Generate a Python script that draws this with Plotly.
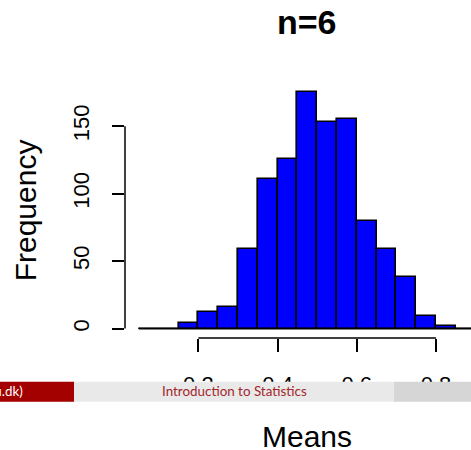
import plotly.graph_objects as go

# ---- data ----
bin_left = [0.05, 0.10, 0.15, 0.20, 0.25, 0.30, 0.35, 0.40, 0.45, 0.50,
            0.55, 0.60, 0.65, 0.70, 0.75, 0.80, 0.85]
counts = [0, 0, 4, 12, 16, 59, 111, 126, 175, 153, 155, 80, 59, 38, 9, 2, 0]
bin_width = 0.05
x_ticks = [0.2, 0.4, 0.6, 0.8]
x_ticklabels = ["0.2", "0.4", "0.6", "0.8"]
y_ticks = [0, 50, 100, 150]
y_ticklabels = ["0", "50", "100", "150"]
title = "n=6"
xlabel = "Means"
ylabel = "Frequency"
footer_left = "dtu.dk)"
footer_mid = "Introduction to Statistics"

W, H = 471, 450
ML, MR, MT, MB = 125, 0, 82.5, 112.2
PW, PH = W - ML - MR, H - MT - MB

def px(xp):
    return (xp - ML) / PW

def py(yp):
    return (H - MB - yp) / PH

centers = [b + bin_width / 2 for b in bin_left]

fig = go.Figure()
fig.add_trace(go.Bar(
    x=centers, y=counts, width=[bin_width] * len(centers),
    marker=dict(color="#0000FF", line=dict(color="black", width=1.6)),
    hoverinfo="skip",
))

axis_font = dict(family="Liberation Sans, Arial, sans-serif", size=22, color="black")

fig.update_layout(
    width=W, height=H,
    margin=dict(l=ML, r=MR, t=MT, b=MB, pad=0),
    paper_bgcolor="white", plot_bgcolor="white",
    showlegend=False,
    bargap=0,
    xaxis=dict(range=[0.0149, 0.0149 + PW / 396.2], showgrid=False, zeroline=False,
               showline=False, ticks="outside", ticklen=13, tickwidth=1.5,
               tickcolor="black", tickvals=x_ticks, ticktext=x_ticklabels,
               tickfont=axis_font, ticklabelstandoff=14),
    yaxis=dict(range=[-7, 182], showgrid=False, zeroline=False, showline=False,
               ticks="outside", ticklen=12, tickwidth=1.5, tickcolor="black",
               tickvals=y_ticks, ticktext=y_ticklabels, tickangle=-90,
               tickfont=axis_font, ticklabelstandoff=14),
)

# histogram baseline (bottom edges of all bins, including empty ones)
fig.add_shape(type="line", xref="x", yref="y", x0=bin_left[0],
              x1=bin_left[-1] + bin_width, y0=0, y1=0,
              line=dict(color="black", width=1.8))

# axis lines spanning first to last tick (R style)
fig.add_shape(type="line", xref="x", yref="paper", x0=min(x_ticks), x1=max(x_ticks),
              y0=0, y1=0, line=dict(color="black", width=1.5))
fig.add_shape(type="line", xref="paper", yref="y", x0=0, x1=0,
              y0=min(y_ticks), y1=max(y_ticks), line=dict(color="black", width=1.5))

# titles
fig.add_annotation(text="<b>" + title + "</b>", xref="paper", yref="paper",
                   x=px(307), y=py(21.5), xanchor="center", yanchor="middle",
                   showarrow=False,
                   font=dict(family="Liberation Sans, Arial, sans-serif", size=34, color="black"))
fig.add_annotation(text=xlabel, xref="paper", yref="paper",
                   x=px(307), y=py(436.3), xanchor="center", yanchor="middle",
                   showarrow=False,
                   font=dict(family="Liberation Sans, Arial, sans-serif", size=30, color="black"))
fig.add_annotation(text=ylabel, xref="paper", yref="paper", textangle=-90,
                   x=px(25), y=py(210), xanchor="center", yanchor="middle",
                   showarrow=False,
                   font=dict(family="Liberation Sans, Arial, sans-serif", size=30, color="black"))

# beamer footer overlay
y0f, y1f = 381.7, 401.7
for (a, b, col) in [(0, 74, "#a30000"), (74, 394, "#e9e9e9"), (394, W, "#d6d6d6")]:
    fig.add_shape(type="rect", xref="paper", yref="paper", layer="above",
                  x0=px(a), x1=px(b), y0=py(y1f), y1=py(y0f),
                  fillcolor=col, line=dict(width=0))

fig.add_annotation(text=footer_mid, xref="paper", yref="paper",
                   x=px(234.2), y=py(390.8), xanchor="center", yanchor="middle",
                   showarrow=False,
                   font=dict(family="Lato, sans-serif", size=13.4, color="#a3262b"))
fig.add_annotation(text=footer_left, xref="paper", yref="paper",
                   x=px(25), y=py(390.8), xanchor="right", yanchor="middle",
                   showarrow=False,
                   font=dict(family="Lato, sans-serif", size=13.4, color="white"))

fig.write_html("out.html", config={"displayModeBar": False},
               post_script="document.body.style.margin='0';document.body.style.padding='0';")
